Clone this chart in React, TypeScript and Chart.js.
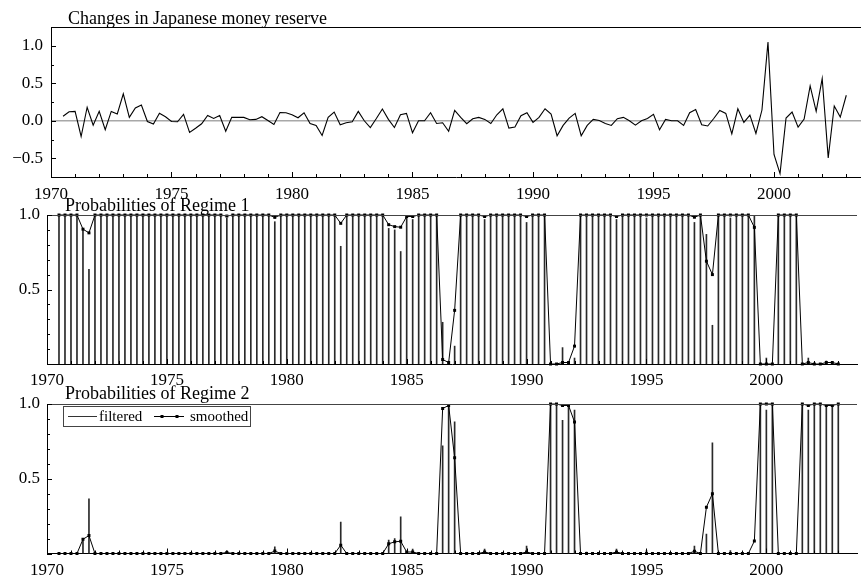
import React, { useEffect, useRef } from "react";
import { Chart, registerables } from "chart.js";

Chart.register(...registerables);

// ---------------- data (quarterly, 1970Q3 .. 2003Q1) ----------------
const FIRST_QUARTER = 1970.5;
const QUARTER_STEP = 0.25;

const MONEY_CHANGES: number[] = [
  0.06, 0.12,
  0.125, -0.21, 0.18, -0.06,
  0.125, -0.12, 0.125, 0.09,
  0.36, 0.045, 0.17, 0.21,
  -0.01, -0.045, 0.1, 0.054,
  -0.01, -0.013, 0.085, -0.156,
  -0.1, -0.04, 0.07, 0.03,
  0.07, -0.14, 0.045, 0.045,
  0.045, 0.013, 0.018, 0.054,
  0.004, -0.05, 0.11, 0.107,
  0.08, 0.04, 0.107, -0.036,
  -0.062, -0.196, 0.045, 0.116,
  -0.054, -0.027, -0.013, 0.125,
  0.0, -0.09, 0.03, 0.156,
  0.018, -0.09, 0.08, 0.098,
  -0.16, 0.0, 0.0, 0.107,
  -0.036, -0.027, -0.14, 0.138,
  0.045, -0.04, 0.027, 0.045,
  0.018, -0.036, 0.08, 0.16,
  -0.098, -0.085, 0.067, 0.107,
  -0.022, 0.045, 0.16, 0.09,
  -0.2, -0.062, 0.036, 0.098,
  -0.2, -0.062, 0.018, 0.004,
  -0.036, -0.062, 0.027, 0.045,
  0.0, -0.058, 0.0, 0.03,
  0.085, -0.12, 0.018, 0.0,
  0.0, -0.062, 0.107, 0.15,
  -0.054, -0.07, 0.03, 0.138,
  0.098, -0.174, 0.16, -0.022,
  0.076, -0.17, 0.143, 1.05,
  -0.45, -0.705, 0.036, 0.116,
  -0.085, 0.022, 0.464, 0.125,
  0.5625, -0.495, 0.196, 0.049,
  0.34,
];

const FILTERED_REGIME1: number[] = [
  1, 1,
  1, 1, 0.905, 0.635,
  1, 1, 1, 1,
  1, 1, 1, 1,
  1, 1, 1, 1,
  1, 1, 1, 1,
  1, 1, 1, 1,
  1, 1, 0.98, 1,
  1, 1, 1, 1,
  1, 1, 0.955, 1,
  1, 1, 1, 1,
  1, 1, 1, 1,
  1, 0.79, 1, 1,
  1, 1, 1, 1,
  1, 0.91, 0.9, 0.755,
  0.99, 0.97, 1, 1,
  1, 1, 0.28, 0.01,
  0.12, 1, 1, 1,
  1, 0.97, 1, 1,
  1, 1, 1, 1,
  0.95, 1, 1, 1,
  0, 0, 0.11, 0,
  0.04, 1, 0.99, 1,
  1, 1, 1, 0.97,
  1, 1, 1, 1,
  0.98, 1, 1, 1,
  1, 1, 1, 1,
  0.95, 1, 0.87, 0.26,
  1, 1, 0.98, 1,
  1, 1, 1, 0,
  0.04, 0, 1, 1,
  1, 1, 0, 0.04,
  0, 0, 0.02, 0,
  0,
];

const SMOOTHED_REGIME1: number[] = [
  1, 1,
  1, 1, 0.905, 0.88,
  1, 1, 1, 1,
  1, 1, 1, 1,
  1, 1, 1, 1,
  1, 1, 1, 1,
  1, 1, 1, 1,
  1, 1, 0.993, 1,
  1, 1, 1, 1,
  1, 1, 0.984, 1,
  1, 1, 1, 1,
  1, 1, 1, 1,
  1, 0.944, 1, 1,
  1, 1, 1, 1,
  1, 0.935, 0.922, 0.918,
  0.99, 0.99, 1, 1,
  1, 1, 0.03, 0.01,
  0.36, 1, 1, 1,
  1, 0.99, 1, 1,
  1, 1, 1, 1,
  0.99, 1, 1, 1,
  0, 0, 0.01, 0.01,
  0.12, 1, 1, 1,
  1, 1, 1, 0.99,
  1, 1, 1, 1,
  1, 1, 1, 1,
  1, 1, 1, 1,
  0.985, 1, 0.69, 0.6,
  1, 1, 1, 1,
  1, 1, 0.917, 0,
  0, 0, 1, 1,
  1, 1, 0, 0.01,
  0, 0, 0.01, 0.01,
  0,
];

const FILTERED_REGIME2: number[] = [
  0, 0,
  0, 0, 0.095, 0.365,
  0, 0, 0, 0,
  0, 0, 0, 0,
  0, 0, 0, 0,
  0, 0, 0, 0,
  0, 0, 0, 0,
  0, 0, 0.02, 0,
  0, 0, 0, 0,
  0, 0, 0.045, 0,
  0, 0, 0, 0,
  0, 0, 0, 0,
  0, 0.21, 0, 0,
  0, 0, 0, 0,
  0, 0.09, 0.1, 0.245,
  0.01, 0.03, 0, 0,
  0, 0, 0.72, 0.99,
  0.88, 0, 0, 0,
  0, 0.03, 0, 0,
  0, 0, 0, 0,
  0.05, 0, 0, 0,
  1, 1, 0.89, 1,
  0.96, 0, 0.01, 0,
  0, 0, 0, 0.03,
  0, 0, 0, 0,
  0.02, 0, 0, 0,
  0, 0, 0, 0,
  0.05, 0, 0.13, 0.74,
  0, 0, 0.02, 0,
  0, 0, 0, 1,
  0.96, 1, 0, 0,
  0, 0, 1, 0.96,
  1, 1, 0.98, 1,
  1,
];

const SMOOTHED_REGIME2: number[] = [
  0, 0,
  0, 0, 0.095, 0.12,
  0, 0, 0, 0,
  0, 0, 0, 0,
  0, 0, 0, 0,
  0, 0, 0, 0,
  0, 0, 0, 0,
  0, 0, 0.007, 0,
  0, 0, 0, 0,
  0, 0, 0.016, 0,
  0, 0, 0, 0,
  0, 0, 0, 0,
  0, 0.056, 0, 0,
  0, 0, 0, 0,
  0, 0.065, 0.078, 0.082,
  0.01, 0.01, 0, 0,
  0, 0, 0.97, 0.99,
  0.64, 0, 0, 0,
  0, 0.01, 0, 0,
  0, 0, 0, 0,
  0.01, 0, 0, 0,
  1, 1, 0.99, 0.99,
  0.88, 0, 0, 0,
  0, 0, 0, 0.01,
  0, 0, 0, 0,
  0, 0, 0, 0,
  0, 0, 0, 0,
  0.015, 0, 0.31, 0.4,
  0, 0, 0, 0,
  0, 0, 0.083, 1,
  1, 1, 0, 0,
  0, 0, 1, 0.99,
  1, 1, 0.99, 0.99,
  1,
];

const YEAR_TICKS = [1970, 1975, 1980, 1985, 1990, 1995, 2000];
const MONEY_TICKS = [-0.5, 0, 0.5, 1];
const PROB_TICKS = [0.5, 1];

const TITLE_MONEY = "Changes in Japanese money reserve";
const TITLE_R1 = "Probabilities of Regime 1";
const TITLE_R2 = "Probabilities of Regime 2";
const LEGEND_LABELS = ["filtered", "smoothed"];

const DATES = MONEY_CHANGES.map((_, i) => FIRST_QUARTER + i * QUARTER_STEP);

// ---------------- styling ----------------
const SERIF = "'Liberation Serif', 'Times New Roman', serif";
const TICK_FONT = { family: SERIF, size: 17 };
const W = 861;
const H = 580;

const fmt = (v: number) =>
  v < 0 ? "\u2212" + Math.abs(v).toFixed(1) : v.toFixed(1);

const decorPlugin = {
  id: "panelDecor",
  afterDraw(chart: any, _args: any, opts: any) {
    const { ctx, chartArea: a } = chart;
    const xs = chart.scales.x;
    const ys = chart.scales.y;
    ctx.save();
    ctx.lineWidth = 1;
    // top frame line
    ctx.strokeStyle = opts.topColor;
    const ty = Math.round(a.top) + 0.5;
    ctx.beginPath();
    ctx.moveTo(a.left, ty);
    ctx.lineTo(a.right, ty);
    ctx.stroke();
    // inward x ticks
    ctx.strokeStyle = "#000";
    for (let yr = 1970; yr <= 2003; yr++) {
      const px = Math.round(xs.getPixelForValue(yr)) + 0.5;
      const len = yr % 5 === 0 ? 5 : 3;
      ctx.beginPath();
      ctx.moveTo(px, a.bottom);
      ctx.lineTo(px, a.bottom - len);
      ctx.stroke();
    }
    // inward y ticks
    const n = Math.round((opts.yMax - opts.yMin) / opts.yMinor);
    for (let k = 0; k <= n; k++) {
      const v = opts.yMin + k * opts.yMinor;
      const major = opts.yMajor.some((m: number) => Math.abs(m - v) < 1e-6);
      const py = Math.round(ys.getPixelForValue(v)) + 0.5;
      ctx.beginPath();
      ctx.moveTo(a.left, py);
      ctx.lineTo(a.left + (major ? 5 : 3), py);
      ctx.stroke();
    }
    // panel title
    ctx.fillStyle = "#000";
    ctx.font = `18px ${SERIF}`;
    ctx.textAlign = "left";
    ctx.textBaseline = "alphabetic";
    ctx.fillText(opts.title, opts.titleX, opts.titleY);
    // legend
    if (opts.legend) {
      const L = opts.legend;
      ctx.fillStyle = "#fff";
      ctx.fillRect(L.x, L.y, L.w, L.h);
      ctx.strokeStyle = "#444";
      ctx.strokeRect(L.x + 0.5, L.y + 0.5, L.w, L.h);
      const cy = L.y + L.h / 2 + 0.5;
      ctx.strokeStyle = "#333";
      ctx.beginPath();
      ctx.moveTo(L.x + 5, cy);
      ctx.lineTo(L.x + 34, cy);
      ctx.stroke();
      ctx.strokeStyle = "#000";
      ctx.beginPath();
      ctx.moveTo(L.x + 91, cy);
      ctx.lineTo(L.x + 121, cy);
      ctx.stroke();
      ctx.fillStyle = "#000";
      ctx.fillRect(L.x + 97.5, cy - 1.5, 3, 3);
      ctx.fillRect(L.x + 112.5, cy - 1.5, 3, 3);
      ctx.font = `15px ${SERIF}`;
      ctx.textBaseline = "middle";
      ctx.fillText(LEGEND_LABELS[0], L.x + 36, cy + 0.5);
      ctx.fillText(LEGEND_LABELS[1], L.x + 127, cy + 0.5);
    }
    ctx.restore();
  },
};

function xScale(max: number, height: number, pad: number) {
  return {
    type: "linear",
    min: 1970,
    max,
    offset: false,
    afterBuildTicks: (s: any) => {
      s.ticks = YEAR_TICKS.map((v) => ({ value: v }));
    },
    afterFit: (s: any) => {
      s.height = height;
    },
    grid: { display: false, drawTicks: false },
    border: { display: true, color: "#000", width: 1 },
    ticks: {
      font: TICK_FONT,
      color: "#000",
      padding: pad,
      maxRotation: 0,
      minRotation: 0,
      autoSkip: false,
      callback: (v: any) => String(v),
    },
  };
}

function moneyConfig(): any {
  return {
    type: "line",
    data: {
      datasets: [
        {
          data: DATES.map((x, i) => ({ x, y: MONEY_CHANGES[i] })),
          borderColor: "#000",
          borderWidth: 1.1,
          pointRadius: 0,
          tension: 0,
        },
      ],
    },
    options: {
      animation: false,
      responsive: false,
      layout: { padding: { left: 0, right: 0, top: 27, bottom: 373 } },
      plugins: {
        legend: { display: false },
        tooltip: { enabled: false },
        panelDecor: {
          topColor: "#000",
          yMin: -0.75,
          yMax: 1.25,
          yMinor: 0.25,
          yMajor: MONEY_TICKS,
          title: TITLE_MONEY,
          titleX: 68,
          titleY: 24,
        },
      },
      scales: {
        x: xScale(2003.61, 30, 7),
        y: {
          type: "linear",
          min: -0.75,
          max: 1.25,
          afterBuildTicks: (s: any) => {
            s.ticks = MONEY_TICKS.map((v) => ({ value: v }));
          },
          afterFit: (s: any) => {
            s.width = 51;
          },
          grid: {
            drawTicks: false,
            color: (c: any) =>
              c.tick && c.tick.value === 0 ? "#a8a8a8" : "rgba(0,0,0,0)",
            lineWidth: 1.5,
          },
          border: { display: true, color: "#000", width: 1 },
          ticks: {
            font: TICK_FONT,
            color: "#000",
            padding: 8,
            callback: (v: any) => fmt(Number(v)),
          },
        },
      },
    },
    plugins: [decorPlugin],
  };
}

function probConfig(
  filtered: number[],
  smoothed: number[],
  title: string,
  top: number,
  bottomPad: number,
  xHeight: number,
  labelPad: number,
  titleY: number,
  legend: any
): any {
  return {
    type: "line",
    data: {
      datasets: [
        {
          type: "line",
          data: DATES.map((x, i) => ({ x, y: smoothed[i] })),
          borderColor: "#000",
          borderWidth: 1,
          pointStyle: "rect",
          pointRadius: 2.1,
          pointBackgroundColor: "#000",
          pointBorderWidth: 0,
          tension: 0,
          clip: 6,
          order: 0,
        },
        {
          type: "bar",
          data: DATES.map((x, i) => ({ x, y: filtered[i] })),
          backgroundColor: "#2a2a2a",
          borderWidth: 0,
          barThickness: 1,
          grouped: false,
          order: 1,
        },
      ],
    },
    options: {
      animation: false,
      responsive: false,
      layout: { padding: { left: 0, right: 0, top, bottom: bottomPad } },
      plugins: {
        legend: { display: false },
        tooltip: { enabled: false },
        panelDecor: {
          topColor: "#444",
          yMin: 0,
          yMax: 1,
          yMinor: 0.1,
          yMajor: [0, 0.5, 1],
          title,
          titleX: 65,
          titleY,
          legend,
        },
      },
      scales: {
        x: xScale(2003.78, xHeight, labelPad),
        y: {
          type: "linear",
          min: 0,
          max: 1,
          afterBuildTicks: (s: any) => {
            s.ticks = PROB_TICKS.map((v) => ({ value: v }));
          },
          afterFit: (s: any) => {
            s.width = 47;
          },
          grid: { display: false, drawTicks: false },
          border: { display: true, color: "#000", width: 1 },
          ticks: {
            font: TICK_FONT,
            color: "#000",
            padding: 7,
            callback: (v: any) => fmt(Number(v)),
          },
        },
      },
    },
    plugins: [decorPlugin],
  };
}

export default function App() {
  const c1 = useRef<HTMLCanvasElement>(null);
  const c2 = useRef<HTMLCanvasElement>(null);
  const c3 = useRef<HTMLCanvasElement>(null);

  useEffect(() => {
    const charts = [
      new Chart(c1.current as HTMLCanvasElement, moneyConfig()),
      new Chart(
        c2.current as HTMLCanvasElement,
        probConfig(FILTERED_REGIME1, SMOOTHED_REGIME1, TITLE_R1, 215, 186, 30, 6, 211, null)
      ),
      new Chart(
        c3.current as HTMLCanvasElement,
        probConfig(FILTERED_REGIME2, SMOOTHED_REGIME2, TITLE_R2, 404, 0, 26.5, 7, 399, {
          x: 63,
          y: 406,
          w: 187,
          h: 20,
        })
      ),
    ];
    return () => charts.forEach((c) => c.destroy());
  }, []);

  const cs: React.CSSProperties = {
    position: "absolute",
    left: 0,
    top: 0,
    width: W,
    height: H,
  };
  return (
    <div
      style={{
        position: "absolute",
        left: 0,
        top: 0,
        width: W,
        height: H,
        background: "#fff",
        overflow: "hidden",
      }}
    >
      <canvas ref={c1} width={W} height={H} style={cs} />
      <canvas ref={c2} width={W} height={H} style={cs} />
      <canvas ref={c3} width={W} height={H} style={cs} />
    </div>
  );
}
